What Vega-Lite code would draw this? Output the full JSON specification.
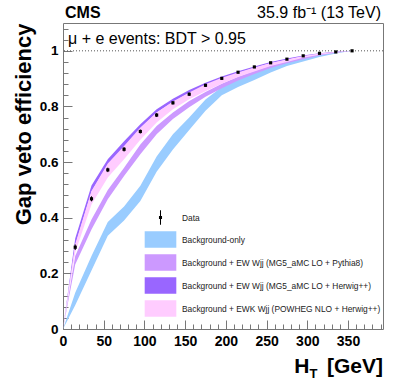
{
  "$schema": "https://vega.github.io/schema/vega-lite/v6.json",
  "width": 320,
  "height": 306,
  "autosize": {"type": "none"},
  "padding": {"left": 63, "top": 23, "right": 16, "bottom": 59},
  "background": "white",
  "view": {"stroke": "#777777", "strokeWidth": 1},
  "resolve": {"axis": {"x": "independent", "y": "independent"}},
  "config": {
    "axis": {"grid": false, "domain": false, "labelOverlap": false, "tickColor": "#777777", "labelColor": "black", "labelFont": "Liberation Sans", "labelFontWeight": "bold", "labelFontSize": 13.5, "titleFont": "Liberation Sans", "titleColor": "black"},
    "text": {"font": "Liberation Sans", "color": "black"}
  },
  "datasets": {
    "bands": [
      {"series": "Background-only", "x": 0, "lo": 0, "hi": 0},
      {"series": "Background-only", "x": 15, "lo": 0.085, "hi": 0.13},
      {"series": "Background-only", "x": 35, "lo": 0.21, "hi": 0.262},
      {"series": "Background-only", "x": 55, "lo": 0.335, "hi": 0.385},
      {"series": "Background-only", "x": 75, "lo": 0.39, "hi": 0.44},
      {"series": "Background-only", "x": 95, "lo": 0.46, "hi": 0.515},
      {"series": "Background-only", "x": 115, "lo": 0.565, "hi": 0.62},
      {"series": "Background-only", "x": 135, "lo": 0.645, "hi": 0.7},
      {"series": "Background-only", "x": 155, "lo": 0.715, "hi": 0.76},
      {"series": "Background-only", "x": 175, "lo": 0.785, "hi": 0.825},
      {"series": "Background-only", "x": 195, "lo": 0.84, "hi": 0.87},
      {"series": "Background-only", "x": 215, "lo": 0.87, "hi": 0.897},
      {"series": "Background-only", "x": 235, "lo": 0.895, "hi": 0.922},
      {"series": "Background-only", "x": 255, "lo": 0.922, "hi": 0.945},
      {"series": "Background-only", "x": 275, "lo": 0.945, "hi": 0.963},
      {"series": "Background-only", "x": 295, "lo": 0.962, "hi": 0.977},
      {"series": "Background-only", "x": 315, "lo": 0.978, "hi": 0.988},
      {"series": "Background-only", "x": 335, "lo": 0.99, "hi": 0.995},
      {"series": "Background-only", "x": 355, "lo": 1.0, "hi": 1.0},
      {"series": "Background + EW Wjj (MG5_aMC LO + Pythia8)", "x": 0, "lo": 0, "hi": 0},
      {"series": "Background + EW Wjj (MG5_aMC LO + Pythia8)", "x": 15, "lo": 0.232, "hi": 0.262},
      {"series": "Background + EW Wjj (MG5_aMC LO + Pythia8)", "x": 35, "lo": 0.358, "hi": 0.394},
      {"series": "Background + EW Wjj (MG5_aMC LO + Pythia8)", "x": 55, "lo": 0.466, "hi": 0.5},
      {"series": "Background + EW Wjj (MG5_aMC LO + Pythia8)", "x": 75, "lo": 0.55, "hi": 0.58},
      {"series": "Background + EW Wjj (MG5_aMC LO + Pythia8)", "x": 95, "lo": 0.628, "hi": 0.663},
      {"series": "Background + EW Wjj (MG5_aMC LO + Pythia8)", "x": 115, "lo": 0.7, "hi": 0.73},
      {"series": "Background + EW Wjj (MG5_aMC LO + Pythia8)", "x": 135, "lo": 0.755, "hi": 0.778},
      {"series": "Background + EW Wjj (MG5_aMC LO + Pythia8)", "x": 155, "lo": 0.797, "hi": 0.82},
      {"series": "Background + EW Wjj (MG5_aMC LO + Pythia8)", "x": 175, "lo": 0.835, "hi": 0.852},
      {"series": "Background + EW Wjj (MG5_aMC LO + Pythia8)", "x": 195, "lo": 0.865, "hi": 0.882},
      {"series": "Background + EW Wjj (MG5_aMC LO + Pythia8)", "x": 215, "lo": 0.893, "hi": 0.907},
      {"series": "Background + EW Wjj (MG5_aMC LO + Pythia8)", "x": 235, "lo": 0.917, "hi": 0.928},
      {"series": "Background + EW Wjj (MG5_aMC LO + Pythia8)", "x": 255, "lo": 0.938, "hi": 0.947},
      {"series": "Background + EW Wjj (MG5_aMC LO + Pythia8)", "x": 275, "lo": 0.955, "hi": 0.962},
      {"series": "Background + EW Wjj (MG5_aMC LO + Pythia8)", "x": 295, "lo": 0.97, "hi": 0.976},
      {"series": "Background + EW Wjj (MG5_aMC LO + Pythia8)", "x": 315, "lo": 0.983, "hi": 0.987},
      {"series": "Background + EW Wjj (MG5_aMC LO + Pythia8)", "x": 335, "lo": 0.993, "hi": 0.996},
      {"series": "Background + EW Wjj (MG5_aMC LO + Pythia8)", "x": 355, "lo": 1.0, "hi": 1.0},
      {"series": "Background + EW Wjj (MG5_aMC LO + Herwig++)", "x": 0, "lo": 0, "hi": 0},
      {"series": "Background + EW Wjj (MG5_aMC LO + Herwig++)", "x": 15, "lo": 0.3, "hi": 0.325},
      {"series": "Background + EW Wjj (MG5_aMC LO + Herwig++)", "x": 35, "lo": 0.494, "hi": 0.516},
      {"series": "Background + EW Wjj (MG5_aMC LO + Herwig++)", "x": 55, "lo": 0.59, "hi": 0.61},
      {"series": "Background + EW Wjj (MG5_aMC LO + Herwig++)", "x": 75, "lo": 0.655, "hi": 0.675},
      {"series": "Background + EW Wjj (MG5_aMC LO + Herwig++)", "x": 95, "lo": 0.72, "hi": 0.736},
      {"series": "Background + EW Wjj (MG5_aMC LO + Herwig++)", "x": 115, "lo": 0.778, "hi": 0.79},
      {"series": "Background + EW Wjj (MG5_aMC LO + Herwig++)", "x": 135, "lo": 0.816, "hi": 0.828},
      {"series": "Background + EW Wjj (MG5_aMC LO + Herwig++)", "x": 155, "lo": 0.848, "hi": 0.859},
      {"series": "Background + EW Wjj (MG5_aMC LO + Herwig++)", "x": 175, "lo": 0.875, "hi": 0.885},
      {"series": "Background + EW Wjj (MG5_aMC LO + Herwig++)", "x": 195, "lo": 0.9, "hi": 0.908},
      {"series": "Background + EW Wjj (MG5_aMC LO + Herwig++)", "x": 215, "lo": 0.92, "hi": 0.927},
      {"series": "Background + EW Wjj (MG5_aMC LO + Herwig++)", "x": 235, "lo": 0.938, "hi": 0.944},
      {"series": "Background + EW Wjj (MG5_aMC LO + Herwig++)", "x": 255, "lo": 0.955, "hi": 0.96},
      {"series": "Background + EW Wjj (MG5_aMC LO + Herwig++)", "x": 275, "lo": 0.968, "hi": 0.972},
      {"series": "Background + EW Wjj (MG5_aMC LO + Herwig++)", "x": 295, "lo": 0.98, "hi": 0.983},
      {"series": "Background + EW Wjj (MG5_aMC LO + Herwig++)", "x": 315, "lo": 0.989, "hi": 0.991},
      {"series": "Background + EW Wjj (MG5_aMC LO + Herwig++)", "x": 335, "lo": 0.995, "hi": 0.997},
      {"series": "Background + EW Wjj (MG5_aMC LO + Herwig++)", "x": 355, "lo": 1.0, "hi": 1.0},
      {"series": "Background + EWK Wjj (POWHEG NLO + Herwig++)", "x": 0, "lo": 0, "hi": 0},
      {"series": "Background + EWK Wjj (POWHEG NLO + Herwig++)", "x": 15, "lo": 0.275, "hi": 0.305},
      {"series": "Background + EWK Wjj (POWHEG NLO + Herwig++)", "x": 35, "lo": 0.448, "hi": 0.496},
      {"series": "Background + EWK Wjj (POWHEG NLO + Herwig++)", "x": 55, "lo": 0.545, "hi": 0.595},
      {"series": "Background + EWK Wjj (POWHEG NLO + Herwig++)", "x": 75, "lo": 0.61, "hi": 0.658},
      {"series": "Background + EWK Wjj (POWHEG NLO + Herwig++)", "x": 95, "lo": 0.68, "hi": 0.724},
      {"series": "Background + EWK Wjj (POWHEG NLO + Herwig++)", "x": 115, "lo": 0.742, "hi": 0.778},
      {"series": "Background + EWK Wjj (POWHEG NLO + Herwig++)", "x": 135, "lo": 0.79, "hi": 0.818},
      {"series": "Background + EWK Wjj (POWHEG NLO + Herwig++)", "x": 155, "lo": 0.826, "hi": 0.85},
      {"series": "Background + EWK Wjj (POWHEG NLO + Herwig++)", "x": 175, "lo": 0.855, "hi": 0.88},
      {"series": "Background + EWK Wjj (POWHEG NLO + Herwig++)", "x": 195, "lo": 0.882, "hi": 0.903},
      {"series": "Background + EWK Wjj (POWHEG NLO + Herwig++)", "x": 215, "lo": 0.906, "hi": 0.922},
      {"series": "Background + EWK Wjj (POWHEG NLO + Herwig++)", "x": 235, "lo": 0.926, "hi": 0.94},
      {"series": "Background + EWK Wjj (POWHEG NLO + Herwig++)", "x": 255, "lo": 0.945, "hi": 0.956},
      {"series": "Background + EWK Wjj (POWHEG NLO + Herwig++)", "x": 275, "lo": 0.96, "hi": 0.969},
      {"series": "Background + EWK Wjj (POWHEG NLO + Herwig++)", "x": 295, "lo": 0.975, "hi": 0.981},
      {"series": "Background + EWK Wjj (POWHEG NLO + Herwig++)", "x": 315, "lo": 0.986, "hi": 0.99},
      {"series": "Background + EWK Wjj (POWHEG NLO + Herwig++)", "x": 335, "lo": 0.993, "hi": 0.996},
      {"series": "Background + EWK Wjj (POWHEG NLO + Herwig++)", "x": 355, "lo": 1.0, "hi": 1.0}
    ],
    "points": [
      {"series": "Data", "x": 15, "y": 0.294, "lo": 0.284, "hi": 0.304},
      {"series": "Data", "x": 35, "y": 0.468, "lo": 0.459, "hi": 0.477},
      {"series": "Data", "x": 55, "y": 0.572, "lo": 0.564, "hi": 0.58},
      {"series": "Data", "x": 75, "y": 0.646, "lo": 0.638, "hi": 0.654},
      {"series": "Data", "x": 95, "y": 0.71, "lo": 0.703, "hi": 0.717},
      {"series": "Data", "x": 115, "y": 0.769, "lo": 0.762, "hi": 0.776},
      {"series": "Data", "x": 135, "y": 0.813, "lo": 0.807, "hi": 0.819},
      {"series": "Data", "x": 155, "y": 0.844, "lo": 0.838, "hi": 0.85},
      {"series": "Data", "x": 175, "y": 0.876, "lo": 0.871, "hi": 0.881},
      {"series": "Data", "x": 195, "y": 0.901, "lo": 0.896, "hi": 0.906},
      {"series": "Data", "x": 215, "y": 0.923, "lo": 0.919, "hi": 0.927},
      {"series": "Data", "x": 235, "y": 0.942, "lo": 0.938, "hi": 0.946},
      {"series": "Data", "x": 255, "y": 0.957, "lo": 0.954, "hi": 0.96},
      {"series": "Data", "x": 275, "y": 0.97, "lo": 0.967, "hi": 0.973},
      {"series": "Data", "x": 295, "y": 0.982, "lo": 0.979, "hi": 0.985},
      {"series": "Data", "x": 315, "y": 0.991, "lo": 0.989, "hi": 0.993},
      {"series": "Data", "x": 335, "y": 0.996, "lo": 0.994, "hi": 0.998},
      {"series": "Data", "x": 355, "y": 1.0, "lo": 0.999, "hi": 1.001}
    ]
  },
  "layer": [
    {
      "data": {"name": "bands"},
      "transform": [{"filter": "datum.series === 'Background-only'"}],
      "mark": {"type": "area", "opacity": 1},
      "encoding": {
        "x": {"field": "x", "type": "quantitative", "scale": {"domain": [0, 393], "nice": false, "zero": false},
          "axis": {"title": null, "orient": "bottom", "values": [0,50,100,150,200,250,300,350], "format": "d",
            "offset": -9, "tickSize": 9, "tickWidth": 1,
            "labelPadding": 5, "labelOverlap": false, "labelFlush": false, "labelFontSize": 14}},
        "y": {"field": "lo", "type": "quantitative", "scale": {"domain": [0, 1.1], "nice": false},
          "axis": {"title": "Gap veto efficiency", "orient": "left", "titleAnchor": "end", "titleFontSize": 22, "titleFontWeight": "bold", "titlePadding": 4,
            "values": [0,0.2,0.4,0.6,0.8,1], "format": "~g",
            "offset": -9, "tickSize": 9, "tickWidth": 1,
            "labelPadding": 5, "labelOverlap": false, "labelFlush": false}},
        "y2": {"field": "hi"},
        "color": {"field": "series", "type": "nominal",
          "scale": {"domain": ["Data", "Background-only", "Background + EW Wjj (MG5_aMC LO + Pythia8)", "Background + EW Wjj (MG5_aMC LO + Herwig++)", "Background + EWK Wjj (POWHEG NLO + Herwig++)"],
            "range": ["#000000", "#99ccff", "#cc99ff", "#9966ff", "#ffccff"]},
          "legend": {"title": null, "orient": "none", "legendX": 89, "legendY": 186, "padding": 0,
            "symbolSize": 289, "symbolStrokeWidth": 0, "symbolOpacity": 1, "rowPadding": 6, "labelOffset": 13, "labelFont": "Liberation Sans", "labelFontSize": 8.4, "labelColor": "#222222", "labelLimit": 400}}
      }
    },
    {
      "data": {"name": "bands"},
      "transform": [{"filter": "datum.series === 'Background + EW Wjj (MG5_aMC LO + Pythia8)'"}],
      "mark": {"type": "area", "opacity": 1},
      "encoding": {
        "x": {"field": "x", "type": "quantitative", "axis": null},
        "y": {"field": "lo", "type": "quantitative", "axis": null},
        "y2": {"field": "hi"},
        "color": {"field": "series", "type": "nominal"}
      }
    },
    {
      "data": {"name": "bands"},
      "transform": [{"filter": "datum.series === 'Background + EW Wjj (MG5_aMC LO + Herwig++)'"}],
      "mark": {"type": "area", "opacity": 1},
      "encoding": {
        "x": {"field": "x", "type": "quantitative", "axis": null},
        "y": {"field": "lo", "type": "quantitative", "axis": null},
        "y2": {"field": "hi"},
        "color": {"field": "series", "type": "nominal"}
      }
    },
    {
      "data": {"name": "bands"},
      "transform": [{"filter": "datum.series === 'Background + EWK Wjj (POWHEG NLO + Herwig++)'"}],
      "mark": {"type": "area", "opacity": 1},
      "encoding": {
        "x": {"field": "x", "type": "quantitative", "axis": null},
        "y": {"field": "lo", "type": "quantitative", "axis": null},
        "y2": {"field": "hi"},
        "color": {"field": "series", "type": "nominal"}
      }
    },
    {
      "data": {"values": [{"ref": 1}]},
      "mark": {"type": "rule", "color": "#555555", "strokeWidth": 1, "strokeDash": [1, 2]},
      "encoding": {"y": {"field": "ref", "type": "quantitative", "axis": null}}
    },
    {
      "data": {"name": "points"},
      "mark": {"type": "rule", "color": "black", "strokeWidth": 1},
      "encoding": {
        "x": {"field": "x", "type": "quantitative",
          "axis": {"title": null, "orient": "bottom", "labels": false, "values": [10,20,30,40,60,70,80,90,110,120,130,140,160,170,180,190,210,220,230,240,260,270,280,290,310,320,330,340,360,370,380,390],
            "offset": -5, "tickSize": 5, "tickWidth": 1}},
        "y": {"field": "lo", "type": "quantitative",
          "axis": {"title": null, "orient": "left", "labels": false, "values": [0.04,0.08,0.12,0.16,0.24,0.28,0.32,0.36,0.44,0.48,0.52,0.56,0.64,0.68,0.72,0.76,0.84,0.88,0.92,0.96,1.04,1.08],
            "offset": -5, "tickSize": 5, "tickWidth": 1}},
        "y2": {"field": "hi"}
      }
    },
    {
      "data": {"name": "points"},
      "mark": {"type": "point", "filled": true, "size": 12, "opacity": 0},
      "encoding": {
        "x": {"field": "x", "type": "quantitative", "axis": null},
        "y": {"field": "y", "type": "quantitative", "axis": null},
        "color": {"field": "series", "type": "nominal"},
        "shape": {"field": "series", "type": "nominal",
          "scale": {"domain": ["Data", "Background-only", "Background + EW Wjj (MG5_aMC LO + Pythia8)", "Background + EW Wjj (MG5_aMC LO + Herwig++)", "Background + EWK Wjj (POWHEG NLO + Herwig++)"],
            "range": ["M-0.06,-0.85L0.06,-0.85L0.06,0.85L-0.06,0.85ZM-0.18,-0.18L0.18,-0.18L0.18,0.18L-0.18,0.18Z", "M-1.86,-0.97L1.86,-0.97L1.86,0.97L-1.86,0.97Z", "M-1.86,-0.97L1.86,-0.97L1.86,0.97L-1.86,0.97Z", "M-1.86,-0.97L1.86,-0.97L1.86,0.97L-1.86,0.97Z", "M-1.86,-0.97L1.86,-0.97L1.86,0.97L-1.86,0.97Z"]},
          "legend": {"title": null, "orient": "none", "legendX": 89, "legendY": 186, "padding": 0,
            "symbolSize": 289, "symbolStrokeWidth": 0, "symbolOpacity": 1, "rowPadding": 6, "labelOffset": 13, "labelFont": "Liberation Sans", "labelFontSize": 8.4, "labelColor": "#222222", "labelLimit": 400}}
      }
    },
    {
      "data": {"name": "points"},
      "mark": {"type": "square", "filled": true, "size": 10, "color": "black", "opacity": 1},
      "encoding": {
        "x": {"field": "x", "type": "quantitative", "axis": null},
        "y": {"field": "y", "type": "quantitative", "axis": null}
      }
    },
    {
      "data": {"values": [{"label": "CMS"}]},
      "mark": {"type": "text", "align": "left", "baseline": "alphabetic", "dx": 2, "dy": -5, "fontSize": 16, "fontWeight": "bold"},
      "encoding": {"x": {"datum": 0, "axis": null}, "y": {"datum": 1.1, "axis": null}, "text": {"field": "label"}}
    },
    {
      "data": {"values": [{"label": "35.9 fb⁻¹ (13 TeV)"}]},
      "mark": {"type": "text", "align": "right", "baseline": "alphabetic", "dx": -2, "dy": -5, "fontSize": 16},
      "encoding": {"x": {"datum": 393, "axis": null}, "y": {"datum": 1.1, "axis": null}, "text": {"field": "label"}}
    },
    {
      "data": {"values": [{"label": "μ + e events: BDT > 0.95"}]},
      "mark": {"type": "text", "align": "left", "baseline": "alphabetic", "dx": 5, "dy": 21, "fontSize": 16},
      "encoding": {"x": {"datum": 0, "axis": null}, "y": {"datum": 1.1, "axis": null}, "text": {"field": "label"}}
    },
    {
      "data": {"values": [{"label": "[GeV]"}]},
      "mark": {"type": "text", "align": "right", "baseline": "alphabetic", "dx": 0, "dy": 44, "fontSize": 21, "fontWeight": "bold"},
      "encoding": {"x": {"datum": 393, "axis": null}, "y": {"datum": 0, "axis": null}, "text": {"field": "label"}}
    },
    {
      "data": {"values": [{"label": "H"}]},
      "mark": {"type": "text", "align": "right", "baseline": "alphabetic", "dx": -73.5, "dy": 44, "fontSize": 21, "fontWeight": "bold"},
      "encoding": {"x": {"datum": 393, "axis": null}, "y": {"datum": 0, "axis": null}, "text": {"field": "label"}}
    },
    {
      "data": {"values": [{"label": "T"}]},
      "mark": {"type": "text", "align": "right", "baseline": "alphabetic", "dx": -65.5, "dy": 49, "fontSize": 13, "fontWeight": "bold"},
      "encoding": {"x": {"datum": 393, "axis": null}, "y": {"datum": 0, "axis": null}, "text": {"field": "label"}}
    }
  ]
}
